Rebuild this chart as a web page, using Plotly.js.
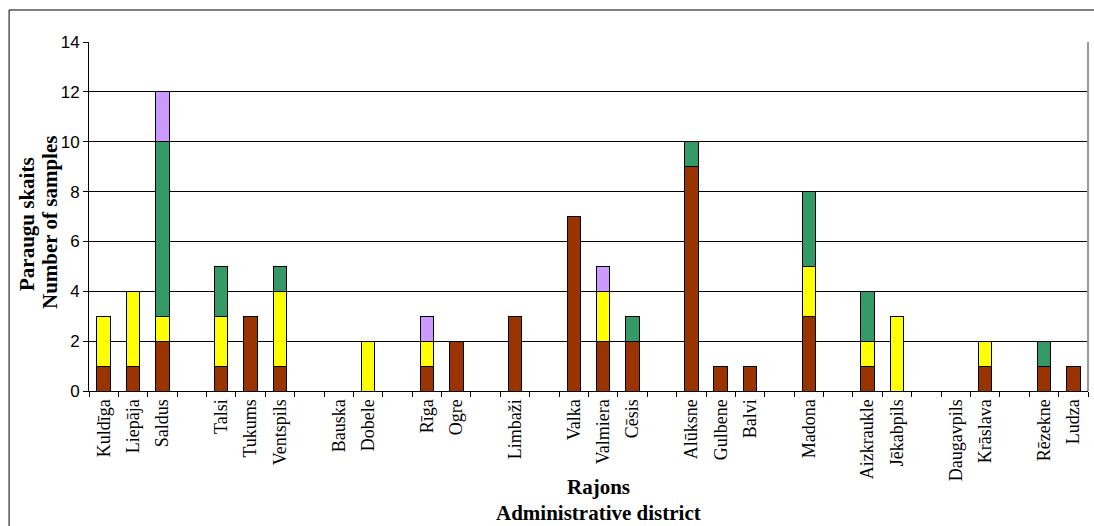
<!DOCTYPE html>
<html><head><meta charset="utf-8">
<script src="https://cdn.plot.ly/plotly-3.0.1.min.js"></script>
<style>html,body{margin:0;padding:0;background:#fff}#c{width:1094px;height:526px}</style>
</head><body><div id="c"></div>
<script>
// slot order (empty slots are gaps between district groups)
const slots = ["Kuldīga","Liepāja","Saldus","_g1","Talsi","Tukums","Ventspils","_g2","Bauska","Dobele","_g3","Rīga","Ogre","_g4","Limbaži","_g5","Valka","Valmiera","Cēsis","_g6","Alūksne","Gulbene","Balvi","_g7","Madona","_g8","Aizkraukle","Jēkabpils","_g9","Daugavpils","Krāslava","_g10","Rēzekne","Ludza"];
const districts = ["Kuldīga","Liepāja","Saldus","Talsi","Tukums","Ventspils","Bauska","Dobele","Rīga","Ogre","Limbaži","Valka","Valmiera","Cēsis","Alūksne","Gulbene","Balvi","Madona","Aizkraukle","Jēkabpils","Daugavpils","Krāslava","Rēzekne","Ludza"];
const brown  = [1,1,2,1,3,1,0,0,1,2,3,7,2,2,9,1,1,3,1,0,0,1,1,1];
const yellow = [2,3,1,2,0,3,0,2,1,0,0,0,2,0,0,0,0,2,1,3,0,1,0,0];
const green  = [0,0,7,2,0,1,0,0,0,0,0,0,0,1,1,0,0,3,2,0,0,0,1,0];
const violet = [0,0,2,0,0,0,0,0,1,0,0,0,1,0,0,0,0,0,0,0,0,0,0,0];
const yTicks = [0,2,4,6,8,10,12,14];

const mk = (vals, color) => ({
  type:'bar', x: districts, y: vals,
  marker:{color: color, line:{color:'#000', width:1}},
  hoverinfo:'x+y', showlegend:false
});
const data = [mk(brown,'#993300'), mk(yellow,'#FFFF00'), mk(green,'#339966'), mk(violet,'#CC99FF')];

const tickText = slots.map(s => s.startsWith('_') ? '' : s);
const serif = '"Liberation Serif", "Times New Roman", serif';

const layout = {
  width:1094, height:526,
  margin:{l:89, r:6, t:42, b:135},
  barmode:'stack', bargap:0.54,
  paper_bgcolor:'#fff', plot_bgcolor:'#fff',
  xaxis:{
    type:'category', categoryorder:'array', categoryarray: slots,
    tickvals: slots, ticktext: tickText,
    tickson:'boundaries', ticks:'outside', ticklen:5, tickcolor:'#000',
    tickangle:-90, showline:true, linecolor:'#000', linewidth:1,
    showgrid:false, zeroline:false,
    tickfont:{family:serif, size:18, color:'#000'},
    range:[-0.5, slots.length-0.5]
  },
  yaxis:{
    range:[0,14], tickvals:yTicks, ticks:'outside', ticklen:5, tickcolor:'#000',
    showline:true, linecolor:'#000', linewidth:1,
    showgrid:true, gridcolor:'#000', gridwidth:1, zeroline:false,
    tickfont:{family:'"Liberation Sans", Arial, sans-serif', size:17, color:'#000'}
  },
  annotations:[
    {xref:'paper', yref:'paper', x:0.5105, y:-0.275, text:'<b>Rajons</b>', showarrow:false,
     yanchor:'middle', font:{family:serif, size:21, color:'#000'}},
    {xref:'paper', yref:'paper', x:0.5105, y:-0.3496, text:'<b>Administrative district</b>', showarrow:false,
     yanchor:'middle', font:{family:serif, size:21, color:'#000'}},
    {xref:'paper', yref:'paper', x:(27-89)/999, y:(391-224)/349, text:'<b>Paraugu skaits</b>', showarrow:false,
     textangle:-90, xanchor:'center', yanchor:'middle', font:{family:serif, size:21, color:'#000'}},
    {xref:'paper', yref:'paper', x:(50-89)/999, y:(391-223)/349, text:'<b>Number of samples</b>', showarrow:false,
     textangle:-90, xanchor:'center', yanchor:'middle', font:{family:serif, size:21, color:'#000'}}
  ],
  shapes:[
    {type:'rect', xref:'paper', yref:'paper', x0:-0.080, x1:1.05, y0:-0.5, y1:1.0917,
     line:{color:'#000', width:1}, fillcolor:'rgba(0,0,0,0)', layer:'below'},
    {type:'line', xref:'paper', yref:'paper', x0:1, x1:1, y0:0, y1:1,
     line:{color:'#999', width:2}}
  ]
};
Plotly.newPlot('c', data, layout, {displayModeBar:false, staticPlot:true});
</script></body></html>
